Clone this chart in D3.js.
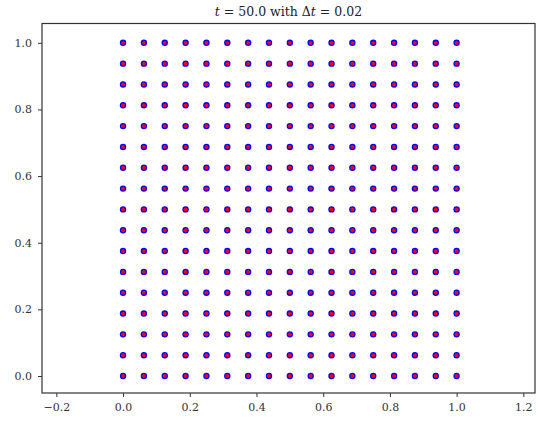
<!DOCTYPE html>
<html><head><meta charset="utf-8">
<script src="https://cdn.jsdelivr.net/npm/d3@7/dist/d3.min.js"></script>
<style>body{margin:0;background:#fff}svg{display:block}</style>
</head><body><svg id="c" width="539" height="421"></svg>
<script>
const gridX = [0, 0.0625, 0.125, 0.1875, 0.25, 0.3125, 0.375, 0.4375, 0.5, 0.5625, 0.625, 0.6875, 0.75, 0.8125, 0.875, 0.9375, 1.0];
const gridY = [0, 0.0625, 0.125, 0.1875, 0.25, 0.3125, 0.375, 0.4375, 0.5, 0.5625, 0.625, 0.6875, 0.75, 0.8125, 0.875, 0.9375, 1.0];
const xTicks = [-0.2, 0.0, 0.2, 0.4, 0.6, 0.8, 1.0, 1.2];
const yTicks = [0.0, 0.2, 0.4, 0.6, 0.8, 1.0];

const svg = d3.select("#c");
const L = 42, R = 535, T = 23.5, B = 393;
const x = d3.scaleLinear().domain([-0.243, 1.235]).range([L, R]);
const y = d3.scaleLinear().domain([-0.051, 1.058]).range([B, T]);
const font = "'DejaVu Serif', 'Liberation Serif', serif";

const pts = [];
gridY.forEach(gy => gridX.forEach(gx => pts.push([gx, gy])));

svg.append("g").selectAll("circle").data(pts).join("circle")
  .attr("cx", d => x(d[0])).attr("cy", d => y(d[1])).attr("r", 3.2)
  .attr("fill", "#0000ff");
svg.append("g").selectAll("circle").data(pts).join("circle")
  .attr("cx", d => x(d[0])).attr("cy", d => y(d[1])).attr("r", 1.9)
  .attr("fill", "#ff0000");

const xa = svg.append("g").attr("transform", `translate(0,${B})`)
  .call(d3.axisBottom(x).tickValues(xTicks).tickFormat(d => d < 0 ? "\u2212" + Math.abs(d).toFixed(1) : d.toFixed(1)).tickSize(4).tickPadding(6));
const ya = svg.append("g").attr("transform", `translate(${L},0)`)
  .call(d3.axisLeft(y).tickValues(yTicks).tickFormat(d => d.toFixed(1)).tickSize(4).tickPadding(6));
[xa, ya].forEach(a => {
  a.select(".domain").remove();
  a.selectAll(".tick line").attr("stroke", "#333").attr("stroke-width", 1);
  a.selectAll(".tick text").attr("font-family", font).attr("font-size", 11).attr("fill", "#333");
});

svg.append("rect").attr("x", L).attr("y", T).attr("width", R - L).attr("height", B - T)
  .attr("fill", "none").attr("stroke", "#333").attr("stroke-width", 1.2);

const title = svg.append("text").attr("x", (L + R) / 2).attr("y", 16)
  .attr("text-anchor", "middle").attr("font-family", font).attr("font-size", 12.5).attr("fill", "#222");
title.append("tspan").attr("font-style", "italic").text("t");
title.append("tspan").text(" = 50.0 with \u0394");
title.append("tspan").attr("font-style", "italic").text("t");
title.append("tspan").text(" = 0.02");
</script></body></html>
